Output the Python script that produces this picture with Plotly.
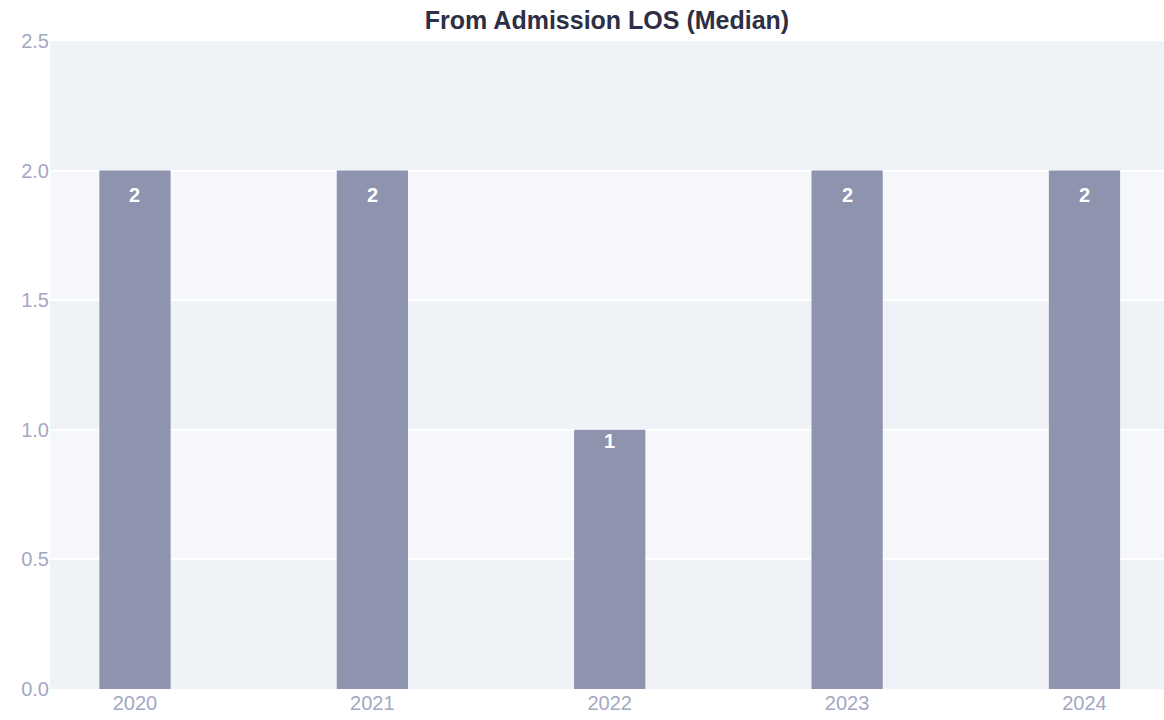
import plotly.graph_objects as go

years = [2020, 2021, 2022, 2023, 2024]
median_los = [2, 2, 1, 2, 2]
y_ticks = [0, 0.5, 1.0, 1.5, 2.0, 2.5]
tick_text = ["0.0", "0.5", "1.0", "1.5", "2.0", "2.5"]

BAR = "#8e93ae"
TICK = "#a3a8c3"

fig = go.Figure(
    go.Bar(
        x=years,
        y=median_los,
        width=0.3,
        marker=dict(color=BAR, line=dict(width=0)),
        hoverinfo="x+y",
    )
)

# value labels inside the top of each bar (the short bar's label sits tighter)
for yr, v in zip(years, median_los):
    fig.add_annotation(
        x=yr, y=v, text=f"<b>{v}</b>", showarrow=False,
        yanchor="top", yshift=-11 if v >= 2 else 2,
        font=dict(color="white", size=20, family="Arial"),
    )

# alternating horizontal bands
for lo, hi in [(0.5, 1.0), (1.5, 2.0)]:
    fig.add_shape(
        type="rect", xref="paper", x0=0, x1=1, yref="y", y0=lo, y1=hi,
        fillcolor="#f5f7fb", line_width=0, layer="below",
    )

fig.update_layout(
    width=1164,
    height=720,
    title=dict(
        text="<b>From Admission LOS (Median)</b>",
        xref="paper", x=0.5, xanchor="center",
        yref="container", y=0.972, yanchor="middle",
        font=dict(family="Arial", size=25, color="#2e2f45"),
    ),
    margin=dict(l=50, r=0, t=41, b=31),
    plot_bgcolor="#eff2f7",
    paper_bgcolor="white",
    showlegend=False,
    font=dict(family="Arial", size=20, color=TICK),
)
fig.update_xaxes(
    range=[2019.642, 2024.335],
    tickvals=years,
    ticktext=[str(y) for y in years],
    showgrid=False,
    zeroline=False,
    ticks="",
    tickfont=dict(size=20, color=TICK),
)
fig.update_yaxes(
    range=[0, 2.5],
    tickvals=y_ticks,
    ticktext=tick_text,
    gridcolor="white",
    gridwidth=2,
    zeroline=False,
    ticks="",
    tickfont=dict(size=20, color=TICK),
)

# drop the default body margin so the figure sits flush with the window
fig.write_html(
    "out.html",
    config={"displayModeBar": False},
    post_script="document.body.style.margin='0';document.body.style.overflow='hidden';",
)
